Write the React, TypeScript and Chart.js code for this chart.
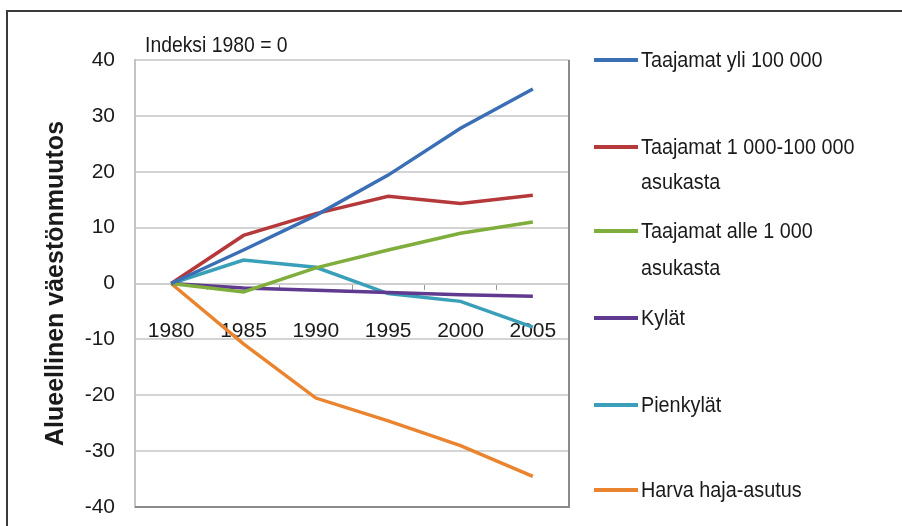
import React, { useEffect, useRef } from "react";
import { Chart, registerables } from "chart.js";

Chart.register(...registerables);

const years = ["1980", "1985", "1990", "1995", "2000", "2005"];
const seriesNames: string[][] = [
  ["Taajamat yli 100 000"],
  ["Taajamat 1 000-100 000", "asukasta"],
  ["Taajamat alle 1 000", "asukasta"],
  ["Kylät"],
  ["Pienkylät"],
  ["Harva haja-asutus"],
];
const taajamatYli100000 = [0, 6, 12.2, 19.4, 27.8, 34.8];
const taajamat1000_100000 = [0, 8.6, 12.5, 15.6, 14.3, 15.8];
const taajamatAlle1000 = [0, -1.5, 2.8, 6, 9, 11];
const kylat = [0, -0.8, -1.2, -1.6, -2, -2.3];
const pienkylat = [0, 4.2, 2.9, -1.8, -3.2, -7.8];
const harvaHajaAsutus = [0, -10.8, -20.5, -24.6, -29, -34.5];
const seriesColors = ["#3a6fb5", "#b5393a", "#7fae3c", "#5f3a8f", "#3a9fb8", "#ea842f"];
const yTicks = [-40, -30, -20, -10, 0, 10, 20, 30, 40];
const yTitle = "Alueellinen väestönmuutos";
const indexNote = "Indeksi 1980 = 0";

const FONT = "'Liberation Sans', Arial, sans-serif";

const legendRows = [
  [60],
  [147, 182],
  [231, 268],
  [318],
  [405],
  [490],
];

function condensedText(ctx: any, text: string, x: number, y: number, squeeze: number) {
  ctx.save();
  ctx.translate(x, y);
  ctx.scale(squeeze, 1);
  ctx.fillText(text, 0, 0);
  ctx.restore();
}

const decorPlugin = {
  id: "decor",
  beforeDraw(chart: any) {
    const ctx = chart.ctx;
    ctx.save();
    ctx.strokeStyle = "#3a3a3a";
    ctx.lineWidth = 2;
    ctx.beginPath();
    ctx.moveTo(7, 526);
    ctx.lineTo(7, 11);
    ctx.lineTo(902, 11);
    ctx.stroke();
    ctx.restore();
  },
  beforeDatasetsDraw(chart: any) {
    const { ctx, chartArea } = chart;
    ctx.save();
    ctx.strokeStyle = "#8a8a8a";
    ctx.lineWidth = 2;
    ctx.beginPath();
    ctx.moveTo(chartArea.left, chartArea.bottom);
    ctx.lineTo(chartArea.right, chartArea.bottom);
    ctx.lineTo(chartArea.right, chartArea.top);
    ctx.stroke();
    ctx.restore();
  },
  afterDraw(chart: any) {
    const { ctx, chartArea } = chart;
    ctx.save();
    ctx.fillStyle = "#1a1a1a";
    ctx.font = `22px ${FONT}`;
    ctx.textBaseline = "alphabetic";
    ctx.textAlign = "left";
    condensedText(ctx, indexNote, chartArea.left + 10, 52, 0.88);
    chart.data.datasets.forEach((ds: any, i: number) => {
      const rows = legendRows[i];
      ctx.strokeStyle = ds.borderColor;
      ctx.lineWidth = 4;
      ctx.beginPath();
      ctx.moveTo(chartArea.right + 25, rows[0]);
      ctx.lineTo(chartArea.right + 69, rows[0]);
      ctx.stroke();
      ctx.fillStyle = "#1a1a1a";
      ctx.textBaseline = "middle";
      ctx.font = `22px ${FONT}`;
      seriesNames[i].forEach((line, j) => {
        condensedText(ctx, line, chartArea.right + 72, rows[j] + 1, 0.9);
      });
    });
    ctx.restore();
  },
};

export default function App() {
  const ref = useRef<HTMLCanvasElement>(null);
  useEffect(() => {
    if (!ref.current) return;
    const allSeries = [
      taajamatYli100000,
      taajamat1000_100000,
      taajamatAlle1000,
      kylat,
      pienkylat,
      harvaHajaAsutus,
    ];
    const chart = new Chart(ref.current, {
      type: "line",
      data: {
        labels: years,
        datasets: allSeries.map((d, i) => ({
          label: seriesNames[i].join(" "),
          data: d,
          borderColor: seriesColors[i],
          backgroundColor: seriesColors[i],
          borderWidth: 3.5,
          pointRadius: 0,
          tension: 0,
        })),
      },
      options: {
        responsive: false,
        animation: false,
        layout: { padding: { left: 40, top: 60, right: 333, bottom: 19 } },
        plugins: {
          legend: { display: false },
          tooltip: { enabled: false },
        },
        scales: {
          x: {
            type: "category",
            position: { y: 0 } as any,
            offset: true,
            grid: {
              display: true,
              drawOnChartArea: false,
              offset: true,
              tickLength: 5,
              color: "#9a9a9a",
            },
            border: { display: true, color: "#cfcfcf", width: 2 },
            ticks: {
              font: { family: FONT, size: 21 },
              color: "#1a1a1a",
              padding: 30,
              maxRotation: 0,
            },
            afterFit(scale: any) {
              scale.height = 0;
            },
          },
          y: {
            min: -40,
            max: 40,
            afterBuildTicks(scale: any) {
              scale.ticks = yTicks.map((v) => ({ value: v }));
            },
            grid: {
              color: "#d4d4d4",
              lineWidth: 2,
              drawTicks: true,
              tickLength: 20,
              tickColor: "rgba(0,0,0,0)",
            },
            border: { display: true, color: "#c4c4c4", width: 2 },
            ticks: {
              font: { family: FONT, size: 21 },
              color: "#1a1a1a",
              padding: 0,
            },
            title: {
              display: true,
              text: yTitle,
              font: { family: FONT, size: 25, weight: "bold" },
              color: "#1a1a1a",
              padding: { top: 1, bottom: 0 },
            },
            afterFit(scale: any) {
              scale.width = 95;
            },
          },
        },
      },
      plugins: [decorPlugin],
    });
    return () => chart.destroy();
  }, []);
  return (
    <div style={{ position: "fixed", left: 0, top: 0, width: 902, height: 526, background: "#fff" }}>
      <canvas ref={ref} width={902} height={526} />
    </div>
  );
}
